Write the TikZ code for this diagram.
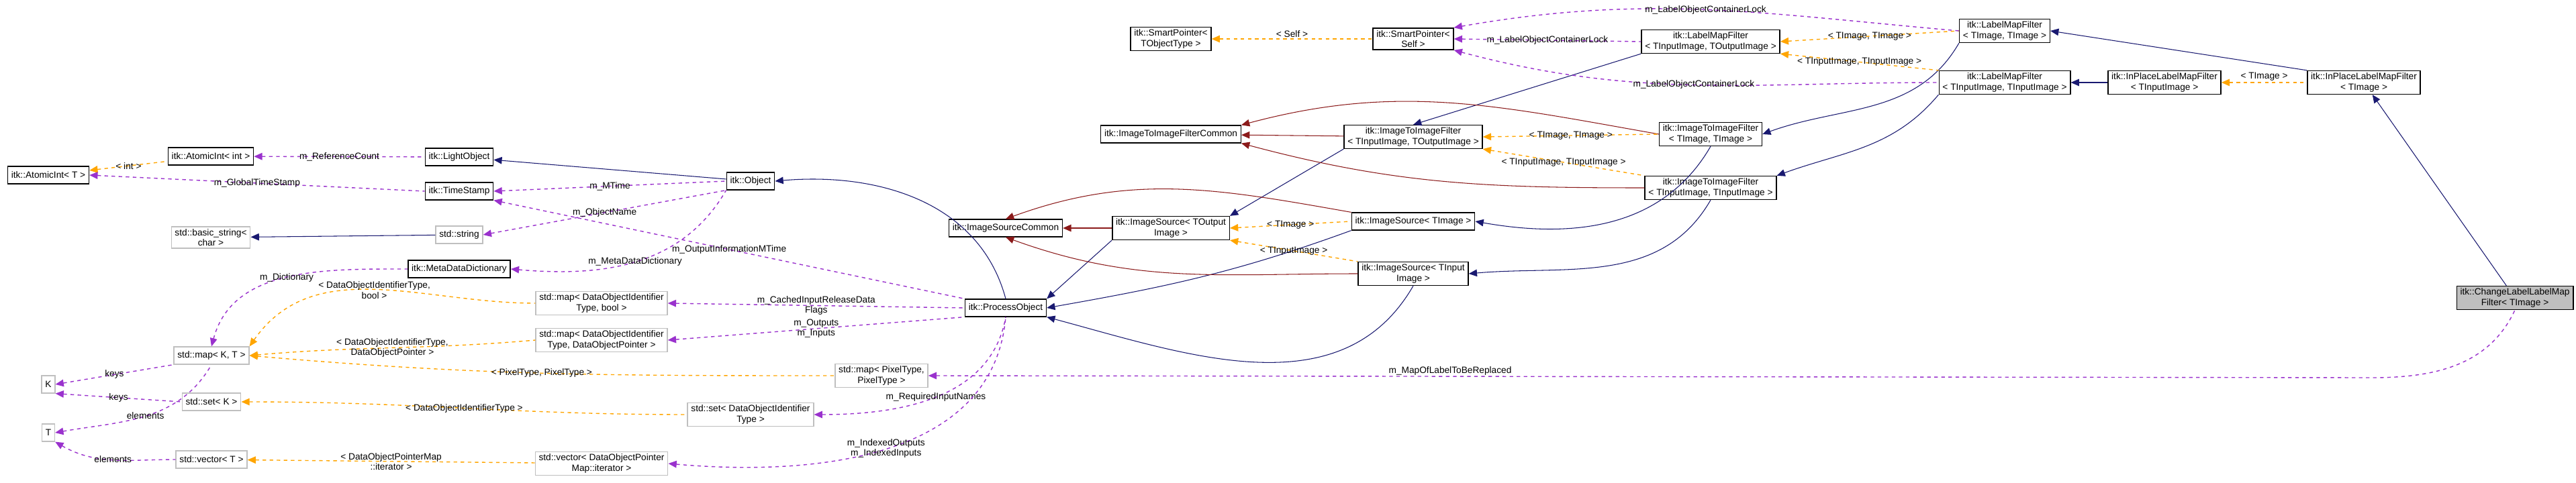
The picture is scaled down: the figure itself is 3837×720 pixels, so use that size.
\documentclass[tikz,border=0pt]{standalone}
\usepackage{fontspec}
\setmainfont{Liberation Sans}
\usetikzlibrary{arrows.meta}
\definecolor{inh}{HTML}{191970}
\definecolor{prot}{HTML}{8B1A1A}
\definecolor{tmpl}{HTML}{FFA500}
\definecolor{use}{HTML}{9A32CD}
\begin{document}
\begin{tikzpicture}[x=0.02cm, y=-0.02cm,
  every node/.style={font=\fontsize{7.8}{8.6}\selectfont},
  cls/.style={draw, thick, align=center, inner xsep=3pt, inner ysep=2pt, minimum height=14.7pt, fill=white},
  ext/.style={cls, draw=black!25},
  lbl/.style={align=center, inner sep=1pt},
  tip/.style={{Triangle[width=6pt,length=7pt]}-},
  inh/.style={tip, draw=inh, semithick},
  prot/.style={tip, draw=prot, semithick},
  tmpl/.style={tip, draw=tmpl, thick, dashed},
  use/.style={tip, draw=use, thick, dashed}]
  \useasboundingbox (0,0) rectangle (3837,720);
  % classes
  \node[cls] (atomicT) at (72,261) {itk::AtomicInt< T >};
  \node[cls] (atomicInt) at (314,233) {itk::AtomicInt< int >};
  \node[cls] (light) at (684,234) {itk::LightObject};
  \node[cls] (stamp) at (684,285) {itk::TimeStamp};
  \node[ext] (basicStr) at (314,354) {std::basic\_string<\\char >};
  \node[ext] (str) at (684,350) {std::string};
  \node[cls] (dict) at (684,401) {itk::MetaDataDictionary};
  \node[ext] (mapKT) at (315,530) {std::map< K, T >};
  \node[ext] (K) at (72,573) {K};
  \node[ext] (setK) at (315,599) {std::set< K >};
  \node[ext] (T) at (72,645) {T};
  \node[ext] (vecT) at (315,685) {std::vector< T >};
  \node[ext] (mapBool) at (896,452) {std::map< DataObjectIdentifier\\Type, bool >};
  \node[ext] (mapPtr) at (896,507) {std::map< DataObjectIdentifier\\Type, DataObjectPointer >};
  \node[ext] (vecIt) at (896,691) {std::vector< DataObjectPointer\\Map::iterator >};
  \node[ext] (setId) at (1118,618) {std::set< DataObjectIdentifier\\Type >};
  \node[ext] (mapPix) at (1313,560) {std::map< PixelType,\\PixelType >};
  \node[cls] (object) at (1118,270) {itk::Object};
  \node[cls] (process) at (1498,459) {itk::ProcessObject};
  \node[cls] (srcCommon) at (1498,340) {itk::ImageSourceCommon};
  \node[cls] (i2iCommon) at (1744,200) {itk::ImageToImageFilterCommon};
  \node[cls] (spType) at (1744,58) {itk::SmartPointer<\\TObjectType >};
  \node[cls] (spSelf) at (2105,58) {itk::SmartPointer<\\Self >};
  \node[cls] (srcOut) at (1744,340) {itk::ImageSource< TOutput\\Image >};
  \node[cls] (srcImg) at (2105,330) {itk::ImageSource< TImage >};
  \node[cls] (srcIn) at (2105,408) {itk::ImageSource< TInput\\Image >};
  \node[cls] (i2iInOut) at (2105,204) {itk::ImageToImageFilter\\< TInputImage, TOutputImage >};
  \node[cls] (i2iImg) at (2548,200) {itk::ImageToImageFilter\\< TImage, TImage >};
  \node[cls] (i2iIn) at (2548,280) {itk::ImageToImageFilter\\< TInputImage, TInputImage >};
  \node[cls] (lmfInOut) at (2548,62) {itk::LabelMapFilter\\< TInputImage, TOutputImage >};
  \node[cls] (lmfImg) at (2986,46) {itk::LabelMapFilter\\< TImage, TImage >};
  \node[cls] (lmfIn) at (2986,123) {itk::LabelMapFilter\\< TInputImage, TInputImage >};
  \node[cls] (inplIn) at (3224,123) {itk::InPlaceLabelMapFilter\\< TInputImage >};
  \node[cls] (inplImg) at (3521,123) {itk::InPlaceLabelMapFilter\\< TImage >};
  \node[cls, fill=black!25] (change) at (3746,444) {itk::ChangeLabelLabelMap\\Filter< TImage >};
  % inheritance
  \draw[inh] (light) -- (object);
  \draw[inh] (basicStr) -- (str);
  \draw[inh] (object.east) to[out=5,in=105] (process.north);
  \draw[inh] (process.north east) -- (srcOut.south west);
  \draw[inh] (process.east) to[out=10,in=200] (srcImg.south west);
  \draw[inh] (process.south east) to[out=-15,in=-120] (srcIn.south);
  \draw[inh] (srcOut.north east) -- (i2iInOut.south west);
  \draw[inh] (srcImg.east) to[out=-10,in=240] (i2iImg.south);
  \draw[inh] (srcIn.east) to[out=5,in=240] (i2iIn.south);
  \draw[inh] (i2iInOut.north) -- (lmfInOut.south west);
  \draw[inh] (i2iImg.east) to[out=20,in=240] (lmfImg.south west);
  \draw[inh] (i2iIn.north east) to[out=20,in=230] (lmfIn.south west);
  \draw[inh] (lmfIn) -- (inplIn);
  \draw[inh] (lmfImg.east) -- (inplImg.north west);
  \draw[inh] (inplImg) -- (change);
  \draw[prot] (srcCommon) -- (srcOut);
  \draw[prot] (srcCommon.north) to[out=20,in=170] (srcImg.north west);
  \draw[prot] (srcCommon.south) to[out=-20,in=180] (srcIn.west);
  \draw[prot] (i2iCommon) -- (i2iInOut);
  \draw[prot] (i2iCommon.north east) to[out=15,in=170] (i2iImg.west);
  \draw[prot] (i2iCommon.south east) to[out=-15,in=180] (i2iIn.west);
  % template instances
  \draw[tmpl] (atomicT) -- node[lbl, at={(193,236)}] {< int >} (atomicInt);
  \draw[tmpl] (spType) -- node[lbl, above] {< Self >} (spSelf);
  \draw[tmpl] (srcOut.east) -- node[lbl, at={(1926,327)}] {< TImage >} (srcImg.west);
  \draw[tmpl] (srcOut.south east) -- node[lbl, at={(1926,357)}] {< TInputImage >} (srcIn.north west);
  \draw[tmpl] (i2iInOut.east) -- node[lbl, at={(2328,195)}] {< TImage, TImage >} (i2iImg.west);
  \draw[tmpl] (i2iInOut.south east) -- node[lbl, at={(2328,219)}] {< TInputImage, TInputImage >} (i2iIn.north west);
  \draw[tmpl] (lmfInOut.east) -- node[lbl, at={(2771,43)}] {< TImage, TImage >} (lmfImg.west);
  \draw[tmpl] (lmfInOut.south east) -- node[lbl, at={(2771,73)}] {< TInputImage, TInputImage >} (lmfIn.north west);
  \draw[tmpl] (inplIn) -- node[lbl, above] {< TImage >} (inplImg);
  \draw[tmpl] (mapKT.north east) to[out=55,in=180] node[lbl, at={(492,440)}] {< DataObjectIdentifierType,\\bool >} (mapBool.west);
  \draw[tmpl] (mapKT.east) to[out=5,in=185] node[lbl, at={(492,504)}] {< DataObjectIdentifierType,\\DataObjectPointer >} (mapPtr.west);
  \draw[tmpl] (mapKT.east) to[out=-5,in=180] node[lbl, at={(684,531)}] {< PixelType, PixelType >} (mapPix.west);
  \draw[tmpl] (setK.east) to[out=0,in=180] node[lbl, at={(685,597)}] {< DataObjectIdentifierType >} (setId.west);
  \draw[tmpl] (vecT) -- node[lbl, at={(492,670)}] {< DataObjectPointerMap\\::iterator >} (vecIt);
  % usage
  \draw[use] (atomicInt) -- node[lbl, at={(492,225)}] {m\_ReferenceCount} (light);
  \draw[use] (atomicT.east) -- node[lbl, at={(316,265)}] {m\_GlobalTimeStamp} (stamp.west);
  \draw[use] (stamp.east) -- node[lbl, at={(899,267)}] {m\_MTime} (object.west);
  \draw[use] (stamp.south east) -- node[lbl, at={(1120,336)}] {m\_OutputInformationMTime} (process.north west);
  \draw[use] (str.east) -- node[lbl, at={(898,293)}] {m\_ObjectName} (object.south west);
  \draw[use] (dict.east) to[out=-5,in=240] node[lbl, at={(898,347)}] {m\_MetaDataDictionary} (object.south west);
  \draw[use] (mapKT.north) to[out=75,in=180] node[lbl, at={(492,381)}] {m\_Dictionary} (dict.west);
  \draw[use] (K.east) -- node[lbl, at={(193,540)}] {keys} (mapKT.south west);
  \draw[use] (K.south east) -- node[lbl, at={(193,576)}] {keys} (setK.west);
  \draw[use] (T.east) to[out=10,in=-120] node[lbl, at={(193,601)}] {elements} (mapKT.south);
  \draw[use] (T.south east) to[out=-30,in=180] node[lbl, at={(193,668)}] {elements} (vecT.west);
  \draw[use] (mapBool.east) -- node[lbl, at={(1120,437)}] {m\_CachedInputReleaseData\\Flags} (process.west);
  \draw[use] (mapPtr.east) -- node[lbl, at={(1120,474)}] {m\_Outputs\\m\_Inputs} (process.south west);
  \draw[use] (setId.east) to[out=0,in=-100] node[lbl, at={(1315,600)}] {m\_RequiredInputNames} (process.south);
  \draw[use] (vecIt.east) to[out=-5,in=-95] node[lbl, at={(1120,690)}] {m\_IndexedOutputs\\m\_IndexedInputs} (process.south);
  \draw[use] (mapPix.east) -- ++(2150,3) node[lbl, at={(2160,553)}] {m\_MapOfLabelToBeReplaced} to[out=0,in=-115] (change.south);
  \draw[use] (spSelf.east) -- node[lbl, at={(2328,52)}] {m\_LabelObjectContainerLock} (lmfInOut.west);
  \draw[use] (spSelf.north east) to[out=10,in=175] node[lbl, at={(2549,12)}] {m\_LabelObjectContainerLock} (lmfImg.west);
  \draw[use] (spSelf.south east) to[out=-15,in=180] node[lbl, at={(2549,100)}] {m\_LabelObjectContainerLock} (lmfIn.west);
\end{tikzpicture}
\end{document}
